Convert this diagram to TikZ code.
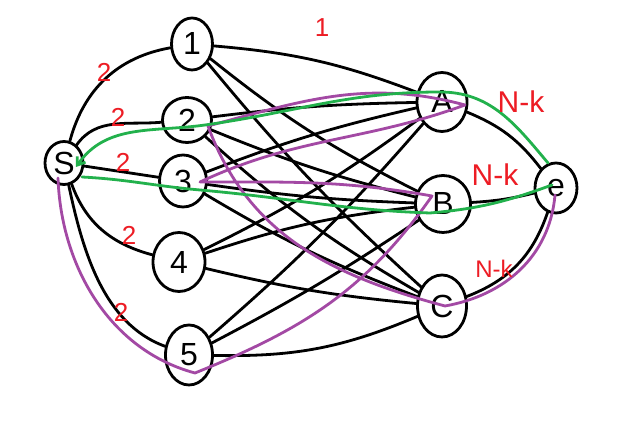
\documentclass[tikz,border=0pt]{standalone}
\usepackage{fontspec}
\setmainfont{Liberation Sans}
\usetikzlibrary{shapes.geometric,calc,arrows.meta}
\definecolor{pgreen}{RGB}{34,177,76}
\definecolor{ppurple}{RGB}{163,73,164}
\definecolor{pred}{RGB}{237,28,36}
\begin{document}
\begin{tikzpicture}[x=1pt,y=1pt,
  vert/.style={ellipse,draw,line width=2.8pt,inner sep=0pt,font=\fontsize{32}{32}\selectfont},
  edge/.style={line width=2.8pt,black,line cap=round},
  wt/.style={text=pred,font=\fontsize{26}{26}\selectfont,inner sep=0pt},
  nk/.style={text=pred,font=\fontsize{30}{30}\selectfont,inner sep=0pt},
  pur/.style={line width=2.8pt,ppurple,line cap=round,line join=round},
  grn/.style={line width=2.8pt,pgreen,line cap=round,line join=round}]
\useasboundingbox (0,0) rectangle (632,435);
\fill[white] (0,0) rectangle (632,435);
% vertices
\node[vert,minimum width=38pt,minimum height=43pt] (S) at (64,272) {S};
\node[vert,minimum width=41pt,minimum height=52pt] (v1) at (192,391) {1};
\node[vert,minimum width=49pt,minimum height=45pt] (v2) at (187,315) {2};
\node[vert,minimum width=47pt,minimum height=52pt] (v3) at (183,254) {3};
\node[vert,minimum width=52pt,minimum height=59pt] (v4) at (179,173) {4};
\node[vert,minimum width=47pt,minimum height=60pt] (v5) at (189,80) {5};
\node[vert,minimum width=50pt,minimum height=59pt] (A) at (442,333) {A};
\node[vert,minimum width=55pt,minimum height=57pt] (B) at (443,231) {B};
\node[vert,minimum width=49pt,minimum height=62pt] (C) at (442,129) {C};
\node[vert,minimum width=42pt,minimum height=50pt] (T) at (556,247) {e};
% source edges
\draw[edge] (S) to[out=75,in=190] (v1);
\draw[edge] (S) to[out=55,in=185] (v2);
\draw[edge] (S) -- (v3);
\draw[edge] (S) to[out=290,in=165] (v4);
\draw[edge] (S) to[out=282,in=160,looseness=0.9] (v5);
% sink edges
\draw[edge] (A) to[bend left=15] (T);
\draw[edge] (B) to[bend right=5] (T);
\draw[edge] (C) to[bend right=25] (T);
% middle edges
\draw[edge] (v1) to[bend left=8] (A);
\draw[edge] (v1) to[bend right=6] (B);
\draw[edge] (v1) to[bend right=4] (C);
\draw[edge] (v2) to[bend left=3] (A);
\draw[edge] (v2) to[bend right=4] (B);
\draw[edge] (v2) to[bend right=6] (C);
\draw[edge] (v3) to[bend left=4] (A);
\draw[edge] (v3) to[bend right=3] (B);
\draw[edge] (v3) to[bend right=5] (C);
\draw[edge] (v4) to[bend right=5] (A);
\draw[edge] (v4) to[bend left=6] (B);
\draw[edge] (v4) to[bend right=4] (C);
\draw[edge] (v5) to[bend right=4] (A);
\draw[edge] (v5) to[bend right=3] (B);
\draw[edge] (v5) to[bend right=12] (C);
% purple path
\coordinate (p0) at ($(S)+(-6,-15)$);
\coordinate (p1) at ($(v5)+(6,-18)$);
\coordinate (p2) at ($(B)+(-11,8)$);
\coordinate (p3) at ($(v3)+(17,-1)$);
\coordinate (p4) at ($(A)+(23,-3)$);
\coordinate (p5) at ($(v2)+(21,-6)$);
\coordinate (p6) at ($(C)+(3,0)$);
\coordinate (p7) at ($(T)+(-1,-7)$);
\draw[pur] (p0) to[out=272,in=165,looseness=0.95] (p1) to[out=22,in=235] (p2)
  to[out=170,in=0] (p3) to[out=25,in=200] (p4) to[out=165,in=15] (p5)
  to[out=290,in=165] (p6) to[out=10,in=265] (p7);
% green paths
\coordinate (g0) at ($(T)+(-8,25)$);
\coordinate (g1) at ($(A)+(-2,10)$);
\coordinate (g2) at ($(v2)+(18,-5)$);
\coordinate (g3) at ($(S)+(12,-4)$);
\draw[grn,-{Straight Barb[length=7pt,width=10pt]}] (g0) to[out=130,in=0] (g1)
  to[out=180,in=8] (g2) to[out=188,in=55] (g3);
\coordinate (h0) at ($(S)+(18,-14)$);
\coordinate (h1) at ($(v3)+(17,-9)$);
\coordinate (h2) at ($(B)+(-13,-9)$);
\coordinate (h3) at ($(T)+(-4,3)$);
\draw[grn] (h0) to[out=-3,in=175] (h1) to[out=-5,in=178] (h2) to[out=5,in=200] (h3);
% labels
\node[wt] (l1) at (322,407) {1};
\node[wt] (la) at (104,363) {2};
\node[wt] (lb) at (118,318) {2};
\node[wt] (lc) at (123,273) {2};
\node[wt] (ld) at (129,200) {2};
\node[wt] (le) at (121,123) {2};
\node[nk] (nA) at (521,333) {N-k};
\node[nk] (nB) at (495,260) {N-k};
\node[nk,font=\fontsize{24}{24}\selectfont] (nC) at (494,166) {N-k};
\end{tikzpicture}
\end{document}
